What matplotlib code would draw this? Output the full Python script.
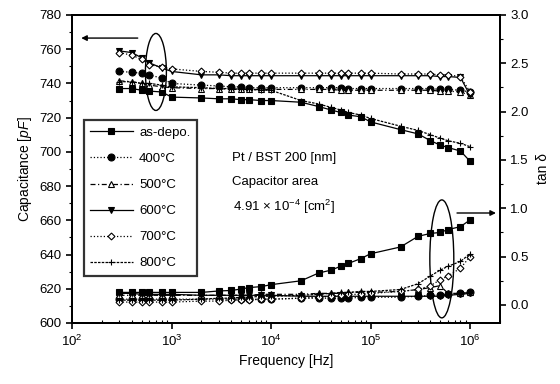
import numpy as np
import matplotlib.pyplot as plt
from matplotlib.patches import Ellipse
from matplotlib.ticker import MultipleLocator, FormatStrFormatter, LogLocator

plt.rcParams['font.family'] = ['Liberation Sans', 'DejaVu Sans']
plt.rcParams['mathtext.fontset'] = 'custom'
plt.rcParams['mathtext.rm'] = 'Liberation Sans'
plt.rcParams['mathtext.it'] = 'Liberation Sans:italic'

freq = [300, 400, 500, 600, 800, 1e3, 2e3, 3e3, 4e3, 5e3, 6e3, 8e3, 1e4,
        2e4, 3e4, 4e4, 5e4, 6e4, 8e4, 1e5, 2e5, 3e5, 4e5, 5e5, 6e5, 8e5, 1e6]

labels = ['as-depo.', '400°C', '500°C', '600°C', '700°C', '800°C']

# capacitance [pF]
cap_asdepo = [737, 737, 736, 735.5, 735, 732, 731.5, 731, 731, 730.5, 730.5, 730, 730,
              729, 726.5, 724.5, 723, 721.5, 720.5, 717.5, 713, 710.5, 706.5, 704, 702.5, 700.5, 694.5]
cap_400 = [747, 746.5, 746, 745, 743, 740, 739, 738.5, 738, 738, 737.5, 737.5, 737.5,
           737.5, 737.5, 737.5, 737.5, 737, 737, 737, 737, 737, 737, 736.5, 736.5, 736, 735]
cap_500 = [741.5, 741, 740, 739, 738, 737.5, 737, 737, 736.5, 736.5, 736.5, 736.5, 736.5,
           736.5, 736.5, 736.5, 736, 736, 736, 736, 736, 736, 736, 735.5, 735.5, 735, 733]
cap_600 = [759, 758, 755, 752, 749, 747, 745, 745, 744.5, 744.5, 744.5, 744.5, 744.5,
           744.5, 744.5, 744.5, 744.5, 744.5, 744.5, 744.5, 744.5, 744.5, 744.5, 744, 744, 743.5, 733]
cap_700 = [758, 756.5, 754, 751, 749.5, 748.5, 747, 746.5, 746, 746, 746, 746, 746,
           746, 746, 746, 746, 746, 746, 746, 745.5, 745.5, 745.5, 745, 745, 744, 735]
cap_800 = [741, 741, 740, 740, 739, 738, 737.5, 737, 737, 736.5, 736.5, 736, 736,
           730, 728, 726, 724.5, 723, 721.5, 719.5, 715, 712.5, 710, 708, 706.5, 705, 703]

# tan delta
tan_asdepo = [0.13, 0.13, 0.13, 0.13, 0.13, 0.13, 0.13, 0.145, 0.15, 0.165, 0.18, 0.19, 0.21,
              0.25, 0.33, 0.36, 0.40, 0.43, 0.48, 0.53, 0.60, 0.71, 0.74, 0.75, 0.78, 0.81, 0.88]
tan_400 = [0.06, 0.06, 0.06, 0.06, 0.06, 0.06, 0.06, 0.06, 0.06, 0.06, 0.06, 0.06, 0.06,
           0.07, 0.07, 0.07, 0.07, 0.07, 0.08, 0.08, 0.08, 0.09, 0.10, 0.10, 0.11, 0.12, 0.13]
tan_500 = [0.10, 0.10, 0.10, 0.10, 0.10, 0.10, 0.10, 0.10, 0.10, 0.10, 0.10, 0.11, 0.11,
           0.11, 0.12, 0.12, 0.12, 0.13, 0.13, 0.13, 0.14, 0.16, 0.18, 0.20, 0.12, 0.12, 0.13]
tan_600 = [0.12, 0.12, 0.11, 0.11, 0.11, 0.11, 0.10, 0.10, 0.10, 0.10, 0.10, 0.10, 0.10,
           0.09, 0.09, 0.09, 0.09, 0.09, 0.09, 0.09, 0.09, 0.09, 0.09, 0.09, 0.10, 0.11, 0.12]
tan_700 = [0.03, 0.03, 0.03, 0.03, 0.03, 0.03, 0.04, 0.04, 0.05, 0.05, 0.05, 0.06, 0.06,
           0.07, 0.08, 0.09, 0.10, 0.11, 0.11, 0.12, 0.14, 0.16, 0.20, 0.26, 0.30, 0.38, 0.50]
tan_800 = [0.05, 0.05, 0.05, 0.05, 0.05, 0.05, 0.06, 0.07, 0.07, 0.08, 0.08, 0.09, 0.09,
           0.10, 0.11, 0.12, 0.13, 0.13, 0.14, 0.14, 0.16, 0.22, 0.30, 0.36, 0.40, 0.45, 0.53]

caps = [cap_asdepo, cap_400, cap_500, cap_600, cap_700, cap_800]
tans = [tan_asdepo, tan_400, tan_500, tan_600, tan_700, tan_800]
styles = [dict(ls='-', marker='s', mfc='k', ms=5),
          dict(ls=':', marker='o', mfc='k', ms=5),
          dict(ls=(0, (4, 2, 1, 2)), marker='^', mfc='w', ms=4),
          dict(ls='-', marker='v', mfc='k', ms=5),
          dict(ls=':', marker='D', mfc='w', ms=3.5),
          dict(ls=(0, (2, 1)), marker='+', mfc='k', ms=5)]

fig = plt.figure(figsize=(5.6, 3.84), dpi=100)
ax = fig.add_axes([0.1286, 0.159, 0.7643, 0.802])
ax2 = ax.twinx()

for c, t, st, lab in zip(caps, tans, styles, labels):
    ax.plot(freq, c, color='k', lw=0.9, mec='k', mew=0.8, label=lab, **st)
    ax2.plot(freq, t, color='k', lw=0.9, mec='k', mew=0.8, **st)

ax.set_xscale('log')
ax.set_xlim(1e2, 2e6)
ax.set_ylim(600, 780)
ax.yaxis.set_major_locator(MultipleLocator(20))
ax.yaxis.set_minor_locator(MultipleLocator(10))
ax.xaxis.set_minor_locator(LogLocator(base=10, subs=np.arange(2, 10), numticks=20))
ax2.set_ylim(-0.186, 3.0)
ax2.yaxis.set_major_locator(MultipleLocator(0.5))
ax2.yaxis.set_minor_locator(MultipleLocator(0.25))
ax2.yaxis.set_major_formatter(FormatStrFormatter('%.1f'))

for a in (ax, ax2):
    a.tick_params(which='major', length=4, width=1.2, labelsize=9.5, direction='out')
    a.tick_params(which='minor', length=2, width=0.8, direction='out')
    for s in a.spines.values():
        s.set_linewidth(1.4)
ax.tick_params(axis='x', which='minor', direction='in')

ax.set_xlabel('Frequency [Hz]', fontsize=10)
ax.set_ylabel('Capacitance [$\\it{pF}$]', fontsize=10, labelpad=4)
ax2.set_ylabel('tan δ', fontsize=10, labelpad=5)

leg = ax.legend(loc='upper left', bbox_to_anchor=(0.012, 0.68), fontsize=9.5,
                frameon=True, fancybox=False, edgecolor='k', labelspacing=1.05,
                handlelength=3.2, handletextpad=0.5, borderpad=0.5, shadow=False)
leg.get_frame().set_linewidth(1.6)

ax.text(0.495, 0.527, 'Pt / BST 200 [nm]', transform=ax.transAxes, ha='center', fontsize=9.5)
ax.text(0.475, 0.447, 'Capacitor area', transform=ax.transAxes, ha='center', fontsize=9.5)
ax.text(0.495, 0.362, '4.91 × 10$^{-4}$ [cm$^{2}$]', transform=ax.transAxes, ha='center', fontsize=9.5)

ax.add_patch(Ellipse((0.196, 0.815), 0.049, 0.25, transform=ax.transAxes,
                     fill=False, ec='k', lw=1.0))
ax.add_patch(Ellipse((0.864, 0.208), 0.056, 0.383, transform=ax.transAxes,
                     fill=False, ec='k', lw=1.0))
ax.annotate('', xy=(0.015, 0.925), xytext=(0.16, 0.925), xycoords='axes fraction',
            arrowprops=dict(arrowstyle='-|>', color='k', lw=1.0, mutation_scale=8))
ax.annotate('', xy=(0.997, 0.357), xytext=(0.893, 0.357), xycoords='axes fraction',
            arrowprops=dict(arrowstyle='-|>', color='k', lw=1.0, mutation_scale=8))

fig.savefig('out.png', dpi=100)
